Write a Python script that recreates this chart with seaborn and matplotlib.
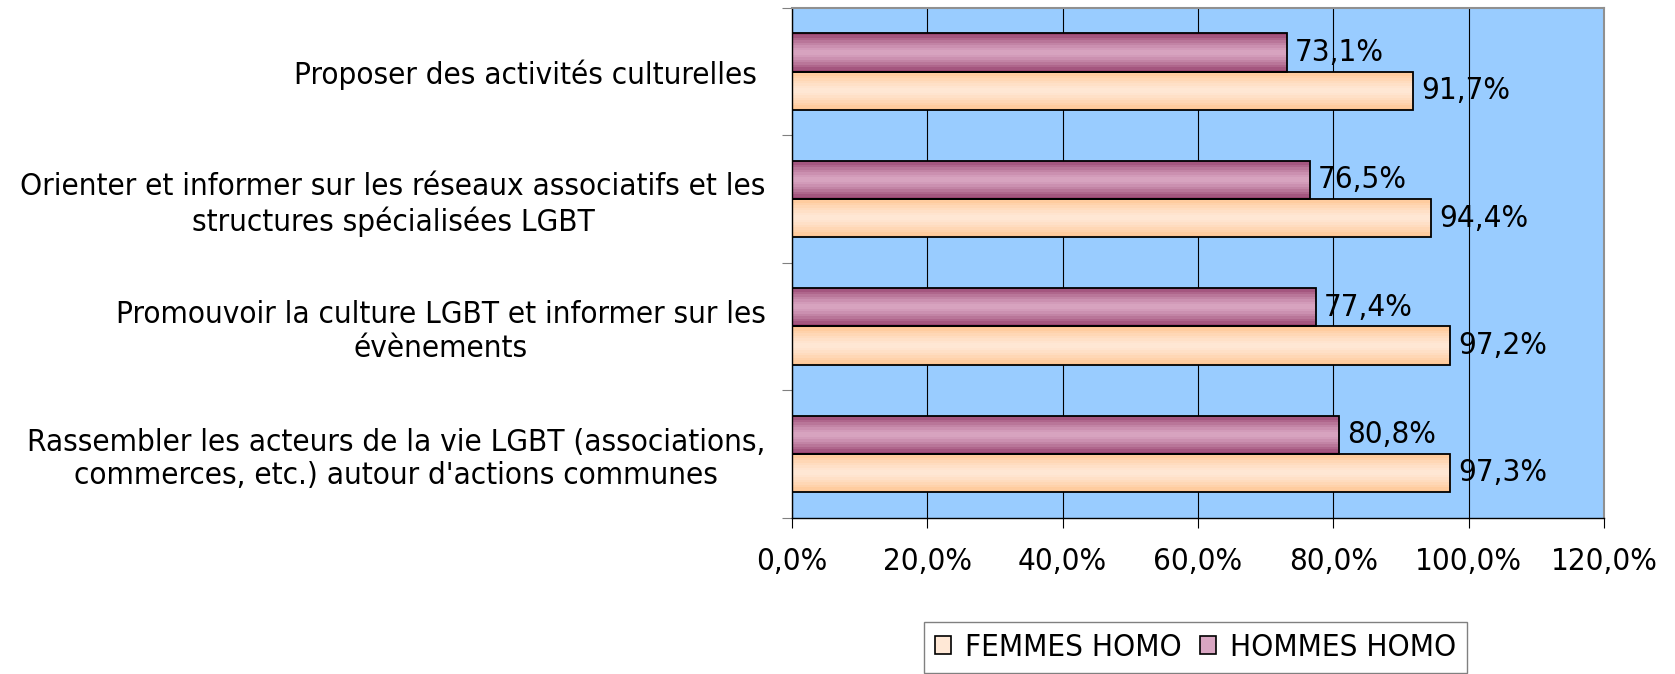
import matplotlib
matplotlib.use("Agg")
import matplotlib.pyplot as plt
import matplotlib.ticker as mticker
from matplotlib.patches import Patch
import numpy as np
import pandas as pd
import seaborn as sns

categories = [
    "Proposer des activités culturelles ",
    "Orienter et informer sur les réseaux associatifs et les\nstructures spécialisées LGBT",
    "Promouvoir la culture LGBT et informer sur les\névènements",
    "Rassembler les acteurs de la vie LGBT (associations,\ncommerces, etc.) autour d'actions communes",
]
hommes_homo = [73.1, 76.5, 77.4, 80.8]
femmes_homo = [91.7, 94.4, 97.2, 97.3]
series_names = ["HOMMES HOMO", "FEMMES HOMO"]
x_ticks = [0, 20, 40, 60, 80, 100, 120]

# gradient colours (edge, middle) per series
grad = {
    "HOMMES HOMO": ((0.60, 0.27, 0.44), (0.85, 0.65, 0.76)),
    "FEMMES HOMO": ((1.00, 0.78, 0.58), (1.00, 0.91, 0.84)),
}

df = pd.DataFrame({
    "categorie": categories * 2,
    "valeur": hommes_homo + femmes_homo,
    "serie": [series_names[0]] * 4 + [series_names[1]] * 4,
})

sns.set_style("white")
plt.rcParams["font.family"] = ["DejaVu Sans"]
plt.rcParams["font.stretch"] = "condensed"
plt.rcParams["text.color"] = "black"
FS = 22.5

fig = plt.figure(figsize=(16.75, 6.74), dpi=100)
ax = fig.add_axes([792 / 1675, 1 - 517.5 / 674, (1604 - 792) / 1675, (517.5 - 8) / 674])

sns.barplot(data=df, y="categorie", x="valeur", hue="serie", hue_order=series_names,
            order=categories, orient="h", width=0.6, legend=False, ax=ax,
            edgecolor="black", linewidth=1.3)


def gradient_fill(patch, edge, mid, steps=16):
    x0, y0 = patch.get_x(), patch.get_y()
    w, h = patch.get_width(), patch.get_height()
    t = np.abs(np.linspace(-1, 1, steps)) ** 1.4
    edge, mid = np.array(edge), np.array(mid)
    img = (mid + (edge - mid) * t[:, None])[:, None, :]
    im = ax.imshow(img, extent=(x0, x0 + w, y0 + h, y0), aspect="auto",
                   interpolation="nearest", zorder=patch.get_zorder() - 0.01)
    im.set_clip_path(patch)
    patch.set_facecolor("none")


for container, name in zip(ax.containers, series_names):
    for bar in container:
        gradient_fill(bar, *grad[name])
    ax.bar_label(container, labels=[f"{v:.1f}%".replace(".", ",") for v in container.datavalues],
                 padding=6, fontsize=FS, color="black")

ax.set_facecolor("#99CCFF")
ax.set_xlim(0, 120)
ax.set_ylim(len(categories) - 0.5, -0.5)
ax.set_xticks(x_ticks)
ax.xaxis.set_major_formatter(mticker.FuncFormatter(lambda v, p: f"{v:.1f}%".replace(".", ",")))
ax.grid(axis="x", color="black", linewidth=0.8)
ax.set_axisbelow(True)
ax.set_xlabel("")
ax.set_ylabel("")

ax.tick_params(axis="x", direction="out", length=7.5, width=0.8, color="black",
               labelsize=FS, labelcolor="black", pad=14, bottom=True)
ax.tick_params(axis="y", which="major", length=0, labelsize=FS, labelcolor="black", pad=19)
ax.set_yticks(np.arange(-0.5, len(categories), 1), minor=True)
ax.tick_params(axis="y", which="minor", direction="out", length=7.5, width=0.8,
               color="#808080", left=True)
for lbl in ax.get_yticklabels():
    lbl.set_multialignment("center")

for side in ["top", "right"]:
    ax.spines[side].set_color("#909090")
    ax.spines[side].set_linewidth(1.5)
for side in ["left", "bottom"]:
    ax.spines[side].set_color("black")
    ax.spines[side].set_linewidth(1.0)

handles = [Patch(facecolor=grad["FEMMES HOMO"][1], edgecolor="black", linewidth=1.2),
           Patch(facecolor=grad["HOMMES HOMO"][1], edgecolor="black", linewidth=1.2)]
fig.legend(handles, ["FEMMES HOMO", "HOMMES HOMO"], loc="upper left",
           bbox_to_anchor=(924 / 1675, 1 - 622 / 674), ncol=2, fontsize=FS,
           frameon=True, fancybox=False, edgecolor="#808080", framealpha=1,
           handlelength=0.5, handleheight=0.5, handletextpad=0.45,
           columnspacing=0.6, borderpad=0.35, borderaxespad=0)

fig.savefig("out.png", dpi=100)
